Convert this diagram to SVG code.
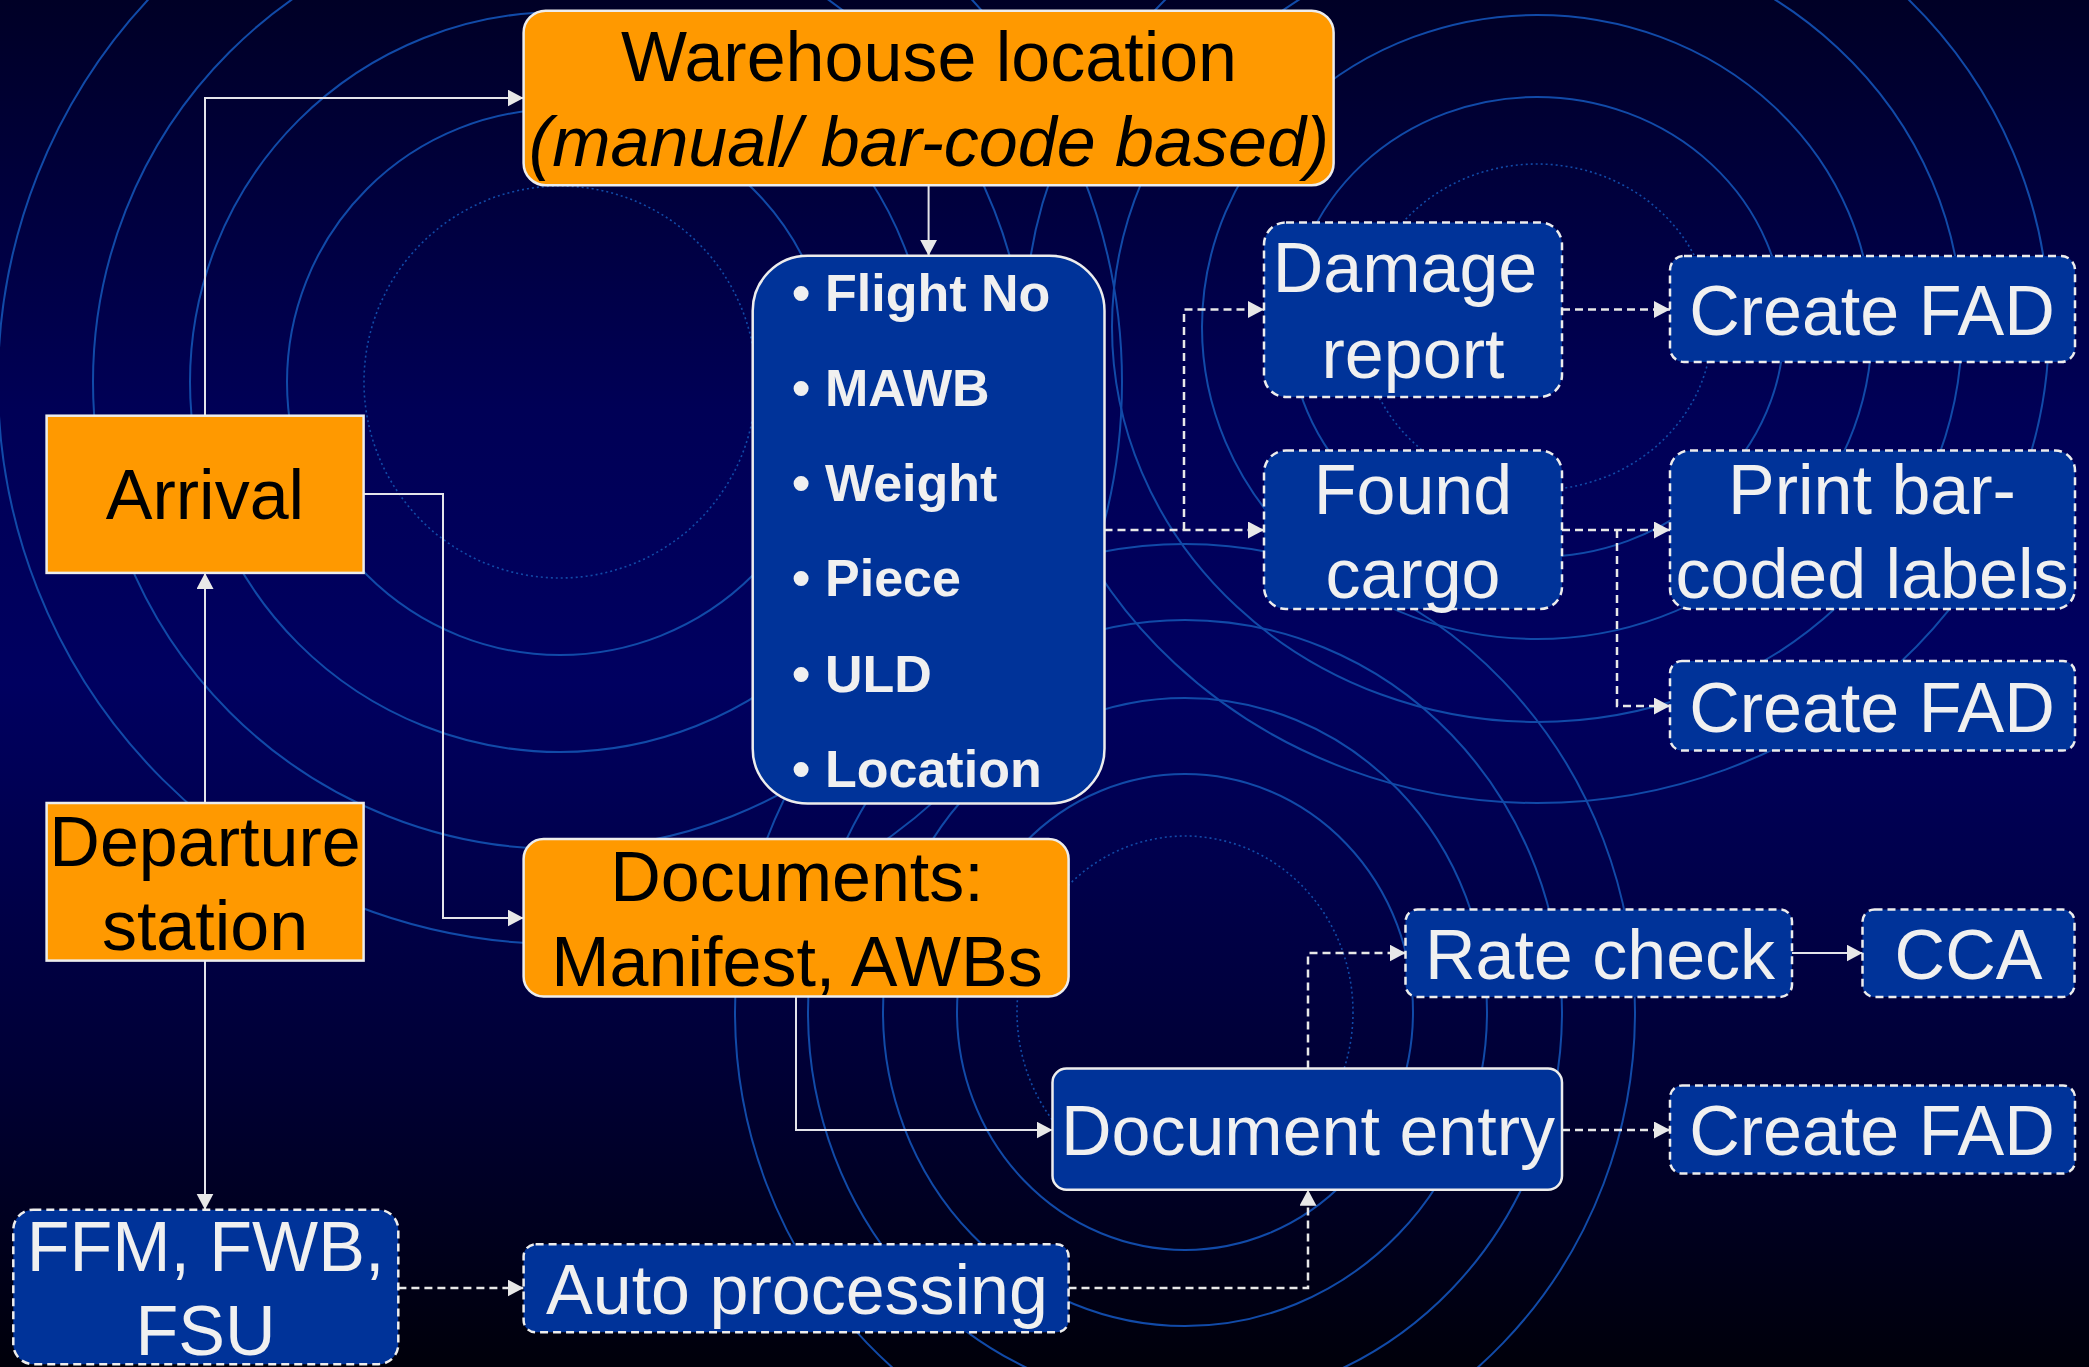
<svg xmlns="http://www.w3.org/2000/svg" width="2089" height="1367" viewBox="0 0 2089 1367">
<defs>
<linearGradient id="bg" x1="0" y1="0" x2="0" y2="1">
<stop offset="0" stop-color="#000026"/>
<stop offset="0.3" stop-color="#000056"/>
<stop offset="0.5" stop-color="#000060"/>
<stop offset="0.78" stop-color="#000036"/>
<stop offset="1" stop-color="#00000a"/>
</linearGradient>
<marker id="arr" markerUnits="userSpaceOnUse" markerWidth="17" markerHeight="18" refX="16" refY="8.5" orient="auto">
<path d="M0,0 L16,8.5 L0,17 z" fill="#E8E8E8"/>
</marker>
<style>
.ring{fill:none;stroke:#114aa8;stroke-width:2}
.dot{fill:none;stroke:#114aa8;stroke-width:1.6;stroke-dasharray:2 3}
.orange{fill:#FF9900;stroke:#EDEDED;stroke-width:2.5}
.blue{fill:#003399;stroke:#EDEDED;stroke-width:2.5}
.dash{fill:#003399;stroke:#EDEDED;stroke-width:2.5;stroke-dasharray:8 5}
.t{font-family:"Liberation Sans",Arial,sans-serif;font-size:70px;text-anchor:middle}
.dk{fill:#000000}
.lt{fill:#F0F0F0}
.b{font-family:"Liberation Sans",Arial,sans-serif;font-size:52px;font-weight:bold;fill:#F0F0F0}
.c{fill:none;stroke:#E4E4EA;stroke-width:2}
.cd{fill:none;stroke:#E8E8E8;stroke-width:2.5;stroke-dasharray:8 5}
</style>
</defs>
<g id="background">
<rect x="0" y="0" width="2089" height="1367" fill="url(#bg)"/>
<circle class="dot" cx="560" cy="382" r="196"/>
<circle class="ring" cx="560" cy="382" r="273"/>
<circle class="ring" cx="560" cy="382" r="370"/>
<circle class="ring" cx="560" cy="382" r="467"/>
<circle class="ring" cx="560" cy="382" r="562"/>
<ellipse class="dot" cx="1537" cy="327" rx="175" ry="163"/>
<ellipse class="ring" cx="1537" cy="327" rx="247" ry="230"/>
<ellipse class="ring" cx="1537" cy="327" rx="335" ry="312"/>
<ellipse class="ring" cx="1537" cy="327" rx="425" ry="395"/>
<ellipse class="ring" cx="1537" cy="327" rx="512" ry="476"/>
<ellipse class="dot" cx="1185" cy="1012" rx="168" ry="176"/>
<ellipse class="ring" cx="1185" cy="1012" rx="228" ry="238"/>
<ellipse class="ring" cx="1185" cy="1012" rx="302" ry="314"/>
<ellipse class="ring" cx="1185" cy="1012" rx="377" ry="392"/>
<ellipse class="ring" cx="1185" cy="1012" rx="450" ry="468"/>
</g>
<g id="connectors">
<polyline class="c" points="205,415.7 205,98 523.6,98" marker-end="url(#arr)"/>
<polyline class="c" points="928.6,185.2 928.6,255.8" marker-end="url(#arr)"/>
<polyline class="c" points="363.7,494 443,494 443,918 523.6,918" marker-end="url(#arr)"/>
<polyline class="c" points="205,803 205,572.9" marker-end="url(#arr)"/>
<polyline class="c" points="205,960.6 205,1209.7" marker-end="url(#arr)"/>
<polyline class="cd" points="1104.5,530 1264,530" marker-end="url(#arr)"/>
<polyline class="cd" points="1184,530 1184,309.5 1264,309.5" marker-end="url(#arr)"/>
<polyline class="cd" points="1562,309.5 1670,309.5" marker-end="url(#arr)"/>
<polyline class="cd" points="1562,530 1670,530" marker-end="url(#arr)"/>
<polyline class="cd" points="1617,530 1617,706 1670,706" marker-end="url(#arr)"/>
<polyline class="c" points="796,996.5 796,1130 1052.5,1130" marker-end="url(#arr)"/>
<polyline class="cd" points="1308,1068.5 1308,953 1405.5,953" marker-end="url(#arr)"/>
<polyline class="c" points="1792,953 1862.5,953" marker-end="url(#arr)"/>
<polyline class="cd" points="1562,1130 1670,1130" marker-end="url(#arr)"/>
<polyline class="cd" points="398.4,1288 523.6,1288" marker-end="url(#arr)"/>
<polyline class="cd" points="1068.5,1288 1308,1288 1308,1189.7" marker-end="url(#arr)"/>
</g>
<g id="warehouse">
<rect class="orange" x="523.6" y="10.7" width="810" height="174.5" rx="22"/>
<text class="t dk" x="929" y="81">Warehouse location</text>
<text class="t dk" x="929" y="166" font-style="italic">(manual/ bar-code based)</text>
</g>
<g id="details">
<rect class="blue" x="752.7" y="255.8" width="351.8" height="547.6" rx="55"/>
<text class="b"><tspan x="792" y="311">•</tspan><tspan x="825" y="311">Flight No</tspan></text>
<text class="b"><tspan x="792" y="406">•</tspan><tspan x="825" y="406">MAWB</tspan></text>
<text class="b"><tspan x="792" y="501">•</tspan><tspan x="825" y="501">Weight</tspan></text>
<text class="b"><tspan x="792" y="596">•</tspan><tspan x="825" y="596">Piece</tspan></text>
<text class="b"><tspan x="792" y="691.5">•</tspan><tspan x="825" y="691.5">ULD</tspan></text>
<text class="b"><tspan x="792" y="787">•</tspan><tspan x="825" y="787">Location</tspan></text>
</g>
<g id="arrival">
<rect class="orange" x="46.6" y="415.7" width="317" height="157.2"/>
<text class="t dk" x="205" y="519">Arrival</text>
</g>
<g id="departure">
<rect class="orange" x="46.6" y="803" width="317" height="157.6"/>
<text class="t dk" x="205" y="865.5">Departure</text>
<text class="t dk" x="205" y="949.5">station</text>
</g>
<g id="messages">
<rect class="dash" x="13.3" y="1209.7" width="385" height="154.5" rx="20"/>
<text class="t lt" x="205.5" y="1270.5">FFM, FWB,</text>
<text class="t lt" x="205.5" y="1354.7">FSU</text>
</g>
<g id="documents">
<rect class="orange" x="523.6" y="839" width="545" height="157.5" rx="20"/>
<text class="t dk" x="797" y="901">Documents:</text>
<text class="t dk" x="797" y="985.5">Manifest, AWBs</text>
</g>
<g id="auto-processing">
<rect class="dash" x="523.6" y="1244.3" width="545" height="88" rx="12"/>
<text class="t lt" x="797" y="1313.5">Auto processing</text>
</g>
<g id="document-entry">
<rect class="blue" x="1052.5" y="1068.5" width="509.5" height="121.2" rx="14"/>
<text class="t lt" x="1308" y="1154.5">Document entry</text>
</g>
<g id="damage-report">
<rect class="dash" x="1264" y="222.5" width="298" height="174.5" rx="22"/>
<text class="t lt" x="1405" y="292">Damage</text>
<text class="t lt" x="1413" y="377.5">report</text>
</g>
<g id="found-cargo">
<rect class="dash" x="1264" y="450.5" width="298" height="158.5" rx="22"/>
<text class="t lt" x="1413" y="513.5">Found</text>
<text class="t lt" x="1413" y="598">cargo</text>
</g>
<g id="create-fad-1">
<rect class="dash" x="1670" y="256" width="405" height="106" rx="14"/>
<text class="t lt" x="1872" y="334.5">Create FAD</text>
</g>
<g id="print-labels">
<rect class="dash" x="1670" y="450.5" width="405" height="158.5" rx="20"/>
<text class="t lt" x="1872" y="513.5">Print bar-</text>
<text class="t lt" x="1872" y="598">coded labels</text>
</g>
<g id="create-fad-2">
<rect class="dash" x="1670" y="661" width="405" height="89.5" rx="12"/>
<text class="t lt" x="1872" y="731.5">Create FAD</text>
</g>
<g id="rate-check">
<rect class="dash" x="1405.5" y="909.5" width="386.5" height="87.5" rx="12"/>
<text class="t lt" x="1600" y="978.5">Rate check</text>
</g>
<g id="cca">
<rect class="dash" x="1862.5" y="909.5" width="212" height="87.5" rx="12"/>
<text class="t lt" x="1968.5" y="978.5">CCA</text>
</g>
<g id="create-fad-3">
<rect class="dash" x="1670" y="1085.5" width="405" height="88" rx="12"/>
<text class="t lt" x="1872" y="1154.5">Create FAD</text>
</g>
</svg>
